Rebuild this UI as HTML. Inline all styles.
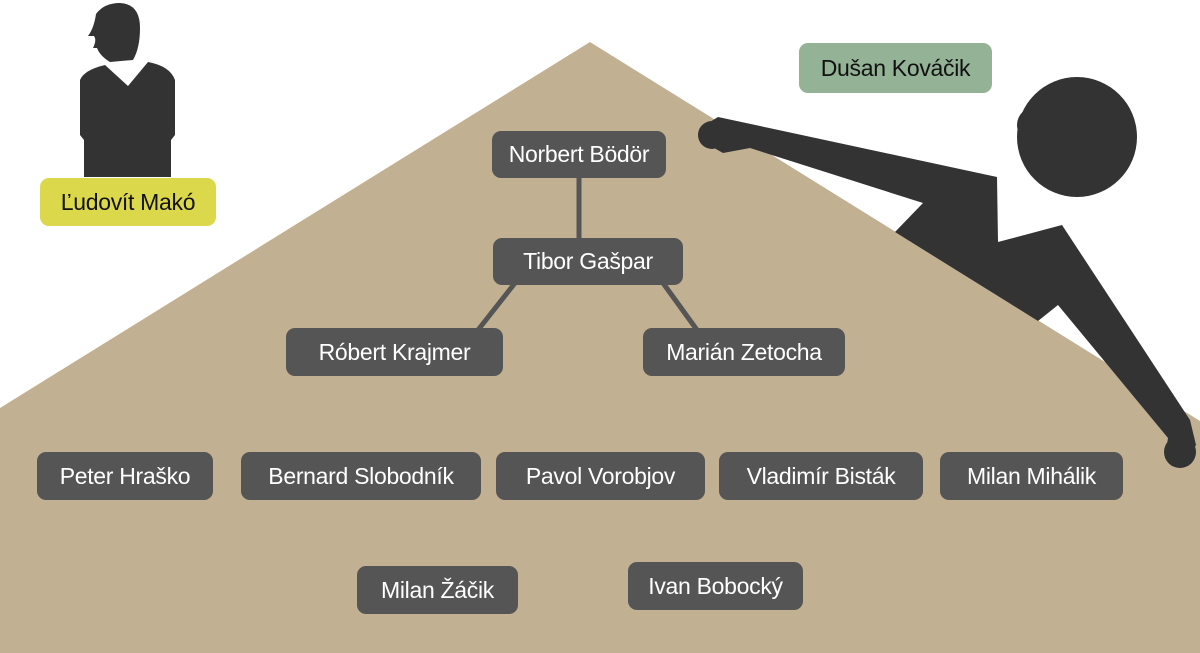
<!DOCTYPE html>
<html><head><meta charset="utf-8"><style>
body{margin:0;width:1200px;height:653px;background:#fff;position:relative;overflow:hidden;font-family:"Liberation Sans",sans-serif}
svg{position:absolute;left:0;top:0}
.b{position:absolute;display:flex;align-items:center;justify-content:center;background:#555;color:#fff;border-radius:9px;font-size:23px;letter-spacing:-0.3px}
.y{background:#dcd84c;color:#111}
.g{background:#94b295;color:#111}
</style></head><body>
<svg width="1200" height="653">
<polygon points="590,42 1200,421 1200,653 0,653 0,408" fill="#c2b093"/>
<!-- left person -->
<path d="M96,14 Q104,3 120,3 Q140,4 140,28 Q140,48 133,60 L110,62 Q100,56 97,48 L93,48 Q97,40 94,36 L88,36 Q94,28 96,14 Z" fill="#333"/>
<path d="M80,80 Q84,70 105,65 L128,86 L148,62 Q170,66 175,80 L175,135 L171,140 L171,177 L84,177 L84,140 L80,135 Z" fill="#333"/>
<!-- right person -->
<circle cx="1077" cy="137" r="60" fill="#333"/>
<circle cx="1035" cy="125" r="18" fill="#333"/>
<polygon points="700,128 718,117 997,177 998,242 1062,225 1190,420 1196,445 1182,468 1165,458 1168,438 1058,305 1038,321 895,232 923,203 750,148 723,153 700,140" fill="#333"/>
<circle cx="1180" cy="452" r="16" fill="#333"/>
<circle cx="712" cy="135" r="14" fill="#333"/>
<g stroke="#555" stroke-width="5">
<line x1="579" y1="176" x2="579" y2="240"/>
<line x1="515" y1="283" x2="478" y2="330"/>
<line x1="663" y1="283" x2="697" y2="330"/>
</g>
</svg>
<div class="b" style="left:492px;top:131px;width:174px;height:47px">Norbert Bödör</div>
<div class="b" style="left:493px;top:238px;width:190px;height:47px">Tibor Gašpar</div>
<div class="b" style="left:286px;top:328px;width:217px;height:48px">Róbert Krajmer</div>
<div class="b" style="left:643px;top:328px;width:202px;height:48px">Marián Zetocha</div>
<div class="b" style="left:37px;top:452px;width:176px;height:48px">Peter Hraško</div>
<div class="b" style="left:241px;top:452px;width:240px;height:48px">Bernard Slobodník</div>
<div class="b" style="left:496px;top:452px;width:209px;height:48px">Pavol Vorobjov</div>
<div class="b" style="left:719px;top:452px;width:204px;height:48px">Vladimír Bisták</div>
<div class="b" style="left:940px;top:452px;width:183px;height:48px">Milan Mihálik</div>
<div class="b" style="left:357px;top:566px;width:161px;height:48px">Milan Žáčik</div>
<div class="b" style="left:628px;top:562px;width:175px;height:48px">Ivan Bobocký</div>
<div class="b y" style="left:40px;top:178px;width:176px;height:48px">Ľudovít Makó</div>
<div class="b g" style="left:799px;top:43px;width:193px;height:50px">Dušan Kováčik</div>
</body></html>
